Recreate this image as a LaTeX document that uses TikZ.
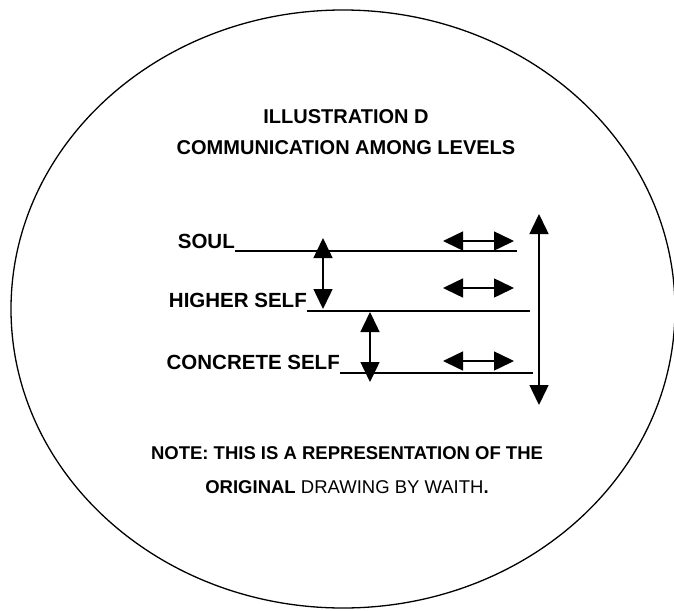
\documentclass[tikz,border=0pt]{standalone}
\usepackage{fontspec}
\setmainfont{Liberation Sans}
\usetikzlibrary{arrows.meta}

\tikzset{
  title/.style={font=\bfseries\fontsize{20}{24}\selectfont, inner sep=0pt},
  note/.style={font=\fontsize{18.5}{22}\selectfont, inner sep=0pt},
  lbl/.style={font=\bfseries\fontsize{20.5}{24}\selectfont, inner sep=0pt, anchor=base east},
  level/.style={line width=2pt},
  twoway/.style={line width=1.5pt, {Triangle[length=20pt,width=19pt]}-{Triangle[length=20pt,width=19pt]}},
}

\begin{document}
\begin{tikzpicture}[x=1pt, y=-1pt] % pixel units, y grows downwards

    % page area
    \useasboundingbox (0,0) rectangle (674,610);

    % outer ellipse
    \draw[line width=1.3pt] (343,309) ellipse [x radius=332, y radius=299];

    % heading
    \node[title] (head1) at (346,117) {ILLUSTRATION D};
    \node[title] (head2) at (346,148) {COMMUNICATION AMONG LEVELS};

    % the three levels
    \node[lbl] (soul) at (235,248) {SOUL};
    \node[lbl] (higher) at (307,307) {HIGHER SELF};
    \node[lbl] (concrete) at (340,369) {CONCRETE SELF};

    \coordinate (soul-a) at (235,251);
    \coordinate (soul-b) at (517,251);
    \coordinate (higher-a) at (307,311);
    \coordinate (higher-b) at (530,311);
    \coordinate (concrete-a) at (340,373);
    \coordinate (concrete-b) at (533,373);

    \draw[level] (soul-a) -- (soul-b);
    \draw[level] (higher-a) -- (higher-b);
    \draw[level] (concrete-a) -- (concrete-b);

    % communication within each level
    \foreach \n/\y in {soul/241, higher/288, concrete/361} {
        \coordinate (\n-l) at (443,\y);
        \coordinate (\n-r) at (514,\y);
        \draw[twoway] (\n-l) -- (\n-r);
    }

    % communication between levels
    \coordinate (up1) at (323,238);
    \coordinate (dn1) at (323,309);
    \coordinate (up2) at (370,312);
    \coordinate (dn2) at (370,382);
    \coordinate (up3) at (539,214);
    \coordinate (dn3) at (539,405);

    \draw[twoway] (up1) -- (dn1);
    \draw[twoway] (up2) -- (dn2);
    \draw[twoway] (up3) -- (dn3);

    % note
    \node[note, font=\bfseries\fontsize{18.5}{22}\selectfont] (note1) at (347,453) {NOTE: THIS IS A REPRESENTATION OF THE};
    \node[note] (note2) at (347,487) {\textbf{ORIGINAL} DRAWING BY WAITH\textbf{.}};

\end{tikzpicture}
\end{document}
